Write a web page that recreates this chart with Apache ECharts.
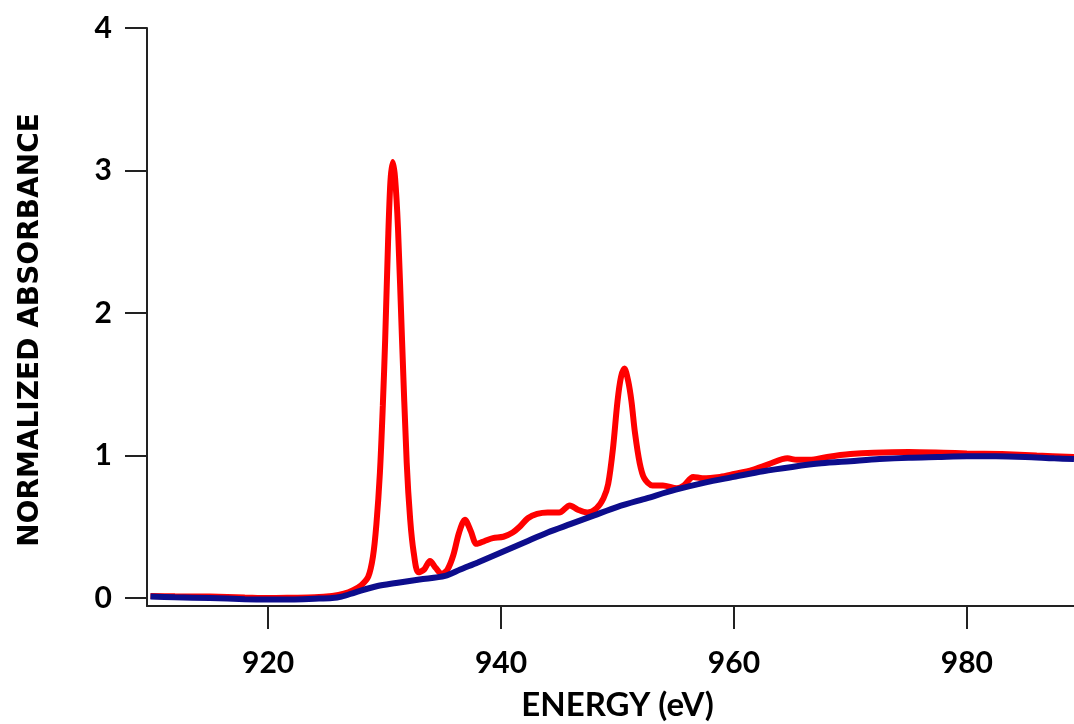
<!DOCTYPE html>
<html>
<head>
<meta charset="utf-8">
<script src="https://cdn.jsdelivr.net/npm/echarts@6/dist/echarts.min.js"></script>
<style>
  html, body { margin: 0; padding: 0; background: #fff; }
  #chart { width: 1074px; height: 724px; }
</style>
</head>
<body>
<div id="chart"></div>
<script>
// energy (eV) and normalized absorbance
const redEnergy = [909.9, 912, 915, 918, 920, 922, 924, 925.5, 926.5, 927.3, 928.0, 928.6, 929.0, 929.3, 929.6, 929.85,
  930.05, 930.3, 930.5, 930.7, 930.9, 931.15, 931.5, 931.9, 932.2, 932.5, 932.9, 933.4, 933.9, 934.4, 934.9,
  935.4, 935.9, 936.4, 936.9, 937.4, 937.9, 938.6, 939.3, 940.2, 941.0, 941.6, 942.3, 943.1, 944.0, 945.0,
  945.9, 946.6, 947.4, 948.2, 948.8, 949.2, 949.6, 950.0, 950.3, 950.6, 950.9, 951.2, 951.5, 951.9, 952.3,
  953.0, 953.9, 955.1, 955.7, 956.5, 957.3, 958.8, 960.0, 961.6, 963.0, 964.6, 965.4, 966.5, 968, 970, 972,
  975, 978, 980, 983, 986, 989.2];
const redAbs = [0.015, 0.012, 0.01, 0.004, 0.0, 0.002, 0.005, 0.015, 0.03, 0.055, 0.09, 0.15, 0.29, 0.52, 0.88, 1.35,
  1.81, 2.5, 2.92, 3.06, 2.95, 2.6, 1.81, 0.95, 0.55, 0.32, 0.18, 0.2, 0.26, 0.21, 0.17,
  0.2, 0.30, 0.46, 0.55, 0.47, 0.38, 0.40, 0.42, 0.43, 0.46, 0.50, 0.56, 0.59, 0.60, 0.60,
  0.65, 0.62, 0.60, 0.63, 0.70, 0.80, 1.04, 1.38, 1.55, 1.61, 1.53, 1.38, 1.16, 0.95, 0.84,
  0.79, 0.79, 0.77, 0.79, 0.85, 0.84, 0.85, 0.87, 0.90, 0.94, 0.98, 0.97, 0.97, 0.99, 1.01, 1.02,
  1.025, 1.02, 1.015, 1.01, 1.0, 0.99];

const blueEnergy = [909.9, 912, 915, 918, 920, 922, 924, 925.5, 926.3, 927.5, 929.4, 931, 933, 935.2, 936.5, 938,
  940, 942, 944, 946, 948, 950, 952.5, 955, 957.5, 960, 962.5, 965, 967.5, 970, 972.5, 975, 977.5, 980,
  982.5, 985, 987.5, 989.2];
const blueAbs = [0.01, 0.005, 0.0, -0.008, -0.01, -0.01, -0.005, 0.0, 0.01, 0.04, 0.084, 0.105, 0.13, 0.155, 0.2, 0.25,
  0.32, 0.39, 0.46, 0.52, 0.58, 0.64, 0.70, 0.76, 0.81, 0.85, 0.89, 0.92, 0.945, 0.96, 0.975, 0.985, 0.99, 0.995,
  0.995, 0.99, 0.98, 0.975];

const xTicks = [920, 940, 960, 980];
const yTicks = [0, 1, 2, 3, 4];

const pair = (xs, ys) => xs.map((x, i) => [x, ys[i]]);

const chart = echarts.init(document.getElementById("chart"));

const axisFont = { fontFamily: "Lato", fontWeight: "bold", fontSize: 30, color: "#000" };

chart.setOption({
  animation: false,
  backgroundColor: "#fff",
  grid: { left: 147, top: 28, right: 0, bottom: 118, outerBoundsMode: "none", containLabel: false },
  xAxis: {
    type: "value",
    min: 909.6,
    max: 989.2,
    name: "ENERGY (eV)",
    nameLocation: "middle",
    nameGap: 83,
    nameTextStyle: { fontFamily: "Lato", fontWeight: "bold", fontSize: 33, color: "#000", padding: [0, 0, 0, 14] },
    axisLine: { show: true, onZero: false, lineStyle: { color: "#222", width: 2 } },
    axisTick: { show: true, inside: false, length: 23, customValues: xTicks, lineStyle: { color: "#222", width: 2 } },
    axisLabel: Object.assign({ customValues: xTicks, margin: 42 }, axisFont),
    splitLine: { show: false }
  },
  yAxis: {
    type: "value",
    min: -0.056,
    max: 4,
    name: "NORMALIZED ABSORBANCE",
    nameLocation: "middle",
    nameGap: 102,
    nameTextStyle: { fontFamily: "DejaVu Sans", fontWeight: "bold", fontSize: 28, color: "#000", padding: [0, 26, 0, 0] },
    axisLine: { show: true, onZero: false, lineStyle: { color: "#222", width: 2 } },
    axisTick: { show: true, inside: false, length: 22, customValues: yTicks, lineStyle: { color: "#222", width: 2 } },
    axisLabel: Object.assign({ customValues: yTicks, margin: 35 }, axisFont),
    splitLine: { show: false }
  },
  series: [
    {
      name: "sample",
      type: "line",
      data: pair(redEnergy, redAbs),
      showSymbol: false,
      smooth: 0.3,
      lineStyle: { color: "#ff0000", width: 6 }
    },
    {
      name: "background",
      type: "line",
      data: pair(blueEnergy, blueAbs),
      showSymbol: false,
      smooth: 0.3,
      lineStyle: { color: "#0d0d8c", width: 6 }
    }
  ]
});
</script>
</body>
</html>
